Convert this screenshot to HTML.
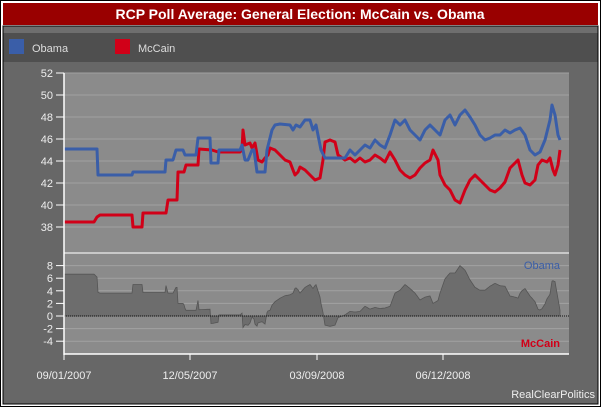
<!DOCTYPE html>
<html><head><meta charset="utf-8"><style>
body{margin:0;width:601px;height:407px;background:#fff;font-family:"Liberation Sans",sans-serif;overflow:hidden}
</style></head><body>
<svg id="s" width="601" height="407" xmlns="http://www.w3.org/2000/svg" font-family="Liberation Sans, sans-serif">
<rect x="0.5" y="0.5" width="600" height="406" fill="#fff" stroke="#000"/>
<rect x="3" y="26" width="595" height="378" fill="#676767" stroke="#000" stroke-width="1"/>
<rect x="3" y="3" width="595" height="22" fill="#990000"/>
<text x="300" y="19" fill="#fff" font-size="14" font-weight="bold" text-anchor="middle">RCP Poll Average: General Election: McCain vs. Obama</text>
<rect x="3.5" y="26.5" width="594" height="7" fill="#6e6e6e"/>
<rect x="3.5" y="33" width="594" height="29" fill="#4f4f4f"/>
<rect x="9" y="39" width="15" height="15" fill="#3a5ea8"/>
<text x="32" y="52" fill="#ddd" font-size="11">Obama</text>
<rect x="115" y="39" width="15" height="15" fill="#d10018"/>
<text x="138" y="52" fill="#ddd" font-size="11">McCain</text>
<rect x="64" y="73" width="505" height="281" fill="#8b8b8b"/>
<g id="grid" stroke="#a2a2a2" stroke-width="1"></g>
<line x1="64" y1="253" x2="569" y2="253" stroke="#ddd" stroke-width="1.5"/>
<g id="data"></g>
<line x1="64" y1="316" x2="569" y2="316" stroke="#111" stroke-width="1" stroke-dasharray="1,1"/>
<line x1="64" y1="73" x2="64" y2="355" stroke="#fff" stroke-width="1.5"/>
<line x1="64" y1="354" x2="569" y2="354" stroke="#fff" stroke-width="1.5"/>
<g id="ticks" fill="#eee" font-size="11"></g>
<text x="560" y="269" fill="#3a5ea8" font-size="11" text-anchor="end">Obama</text>
<text x="560" y="347" fill="#d10018" font-size="11" font-weight="bold" text-anchor="end">McCain</text>
<text x="595" y="398" fill="#eee" font-size="11" text-anchor="end">RealClearPolitics</text>
</svg>
<script>
var NS="http://www.w3.org/2000/svg";
function el(p,t,a,txt){var e=document.createElementNS(NS,t);for(var k in a)e.setAttribute(k,a[k]);if(txt)e.textContent=txt;document.getElementById(p).appendChild(e);return e;}
for(var v=38;v<=52;v+=2){var y=73+(52-v)*11;el("grid","line",{x1:64,x2:569,y1:y,y2:y});el("ticks","text",{x:53,y:y+4,"text-anchor":"end"},""+v);el("ticks","line",{x1:56,x2:64,y1:y,y2:y,stroke:"#fff"});}
for(var v=-4;v<=8;v+=2){var y=316-v*6.3;if(v!=0)el("grid","line",{x1:64,x2:569,y1:y,y2:y});el("ticks","text",{x:53,y:y+4,"text-anchor":"end"},""+v);el("ticks","line",{x1:56,x2:64,y1:y,y2:y,stroke:"#fff"});}
[[64,"09/01/2007"],[190,"12/05/2007"],[317,"03/09/2008"],[443,"06/12/2008"]].forEach(function(d){el("ticks","line",{x1:d[0],x2:d[0],y1:354,y2:360,stroke:"#fff"});el("ticks","text",{x:d[0],y:379,"text-anchor":"middle"},d[1]);});
var O=[[64,149],[97,149],[98,175],[132,175],[133,172],[165,172],[166,160],[173,160],[176,150],[183,150],[185,155],[196,155],[198,138],[210,138],[211,163],[218,163],[219,150],[240,150],[242,145],[245,160],[248,160],[252,150],[254,150],[257,172],[265,172],[267,150],[272,130],[275,125],[280,124],[290,125],[293,130],[296,125],[300,127],[305,120],[310,120],[313,130],[316,125],[318,135],[321,150],[325,158],[340,158],[345,158],[350,150],[355,155],[360,150],[365,145],[370,148],[375,140],[380,145],[385,148],[390,135],[395,120],[400,125],[405,120],[410,130],[415,135],[420,140],[425,130],[430,125],[435,130],[440,135],[445,120],[450,115],[455,125],[460,115],[465,110],[470,117],[475,125],[480,135],[485,140],[490,138],[495,135],[500,135],[505,130],[510,133],[515,130],[520,128],[525,135],[530,150],[535,155],[540,152],[545,140],[550,120],[552,105],[555,115],[558,135],[560,140]];
var M=[[64,222],[94,222],[97,217],[100,215],[132,215],[133,227],[142,227],[143,213],[166,213],[168,200],[177,200],[178,172],[184,172],[186,165],[198,165],[199,149],[212,150],[218,152],[240,152],[242,150],[243,130],[245,145],[250,143],[252,148],[255,143],[258,160],[262,162],[265,158],[268,155],[270,148],[275,150],[280,155],[285,160],[290,162],[293,170],[295,175],[298,172],[300,167],[305,170],[310,175],[315,180],[320,178],[323,160],[325,142],[330,140],[335,142],[338,155],[345,160],[350,158],[355,162],[360,158],[365,162],[370,160],[375,155],[380,158],[385,162],[390,152],[395,160],[400,170],[405,175],[410,178],[415,175],[420,168],[425,163],[430,160],[433,150],[438,160],[440,175],[445,185],[450,190],[455,200],[460,203],[465,190],[470,180],[475,175],[480,180],[485,185],[490,190],[495,192],[500,188],[505,182],[510,168],[515,163],[518,160],[522,175],[525,183],[530,185],[535,180],[538,165],[542,160],[547,162],[550,158],[553,170],[555,175],[558,165],[560,150]];
function interp(A,x){for(var i=1;i<A.length;i++){if(x<=A[i][0]){var a=A[i-1],b=A[i];var t=(x-a[0])/((b[0]-a[0])||1);return a[1]+t*(b[1]-a[1]);}}return A[A.length-1][1];}
var d="M64,316";for(var x=64;x<=560;x++){var diff=(interp(M,x)-interp(O,x))/11;d+=" L"+x+","+(316-diff*6.3).toFixed(1);}d+=" L560,316 Z";
el("data","path",{d:d,fill:"#6d6d6d",stroke:"#555","stroke-width":0.8});
function pts(A){return A.map(function(p){return p.join(",")}).join(" ");}
el("data","polyline",{points:pts(M),fill:"none",stroke:"#d10018","stroke-width":3,"stroke-linejoin":"round"});
el("data","polyline",{points:pts(O),fill:"none",stroke:"#3a5ea8","stroke-width":3,"stroke-linejoin":"round"});
</script>
</body></html>
